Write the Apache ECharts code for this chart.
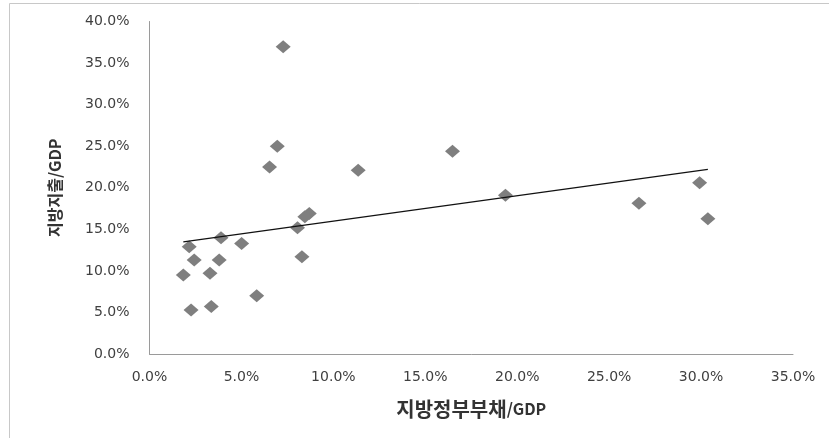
<!DOCTYPE html>
<html>
<head>
<meta charset="utf-8">
<script src="https://cdn.jsdelivr.net/npm/echarts@6/dist/echarts.min.js"></script>
<style>
html,body{margin:0;padding:0;background:#fff;}
#chart{width:829px;height:438px;}
</style>
</head>
<body>
<div id="chart"></div>
<script>
// Local government debt / GDP (%)
const debtGdp = [7.27, 6.95, 6.53, 11.35, 8.69, 8.45, 8.05, 3.89, 2.16, 5.01, 2.43, 3.79, 8.29, 1.84, 3.29, 5.83, 2.26, 3.36, 16.48, 19.36, 26.62, 29.92, 30.37];
// Local expenditure / GDP (%)
const expGdp = [36.95, 25.0, 22.5, 22.1, 16.9, 16.5, 15.2, 14.0, 12.9, 13.3, 11.3, 11.3, 11.7, 9.5, 9.7, 7.0, 5.3, 5.7, 24.4, 19.1, 18.15, 20.6, 16.27];
const xNameKo = '지방정부부채', xNameEn = '/GDP';
const yNameKo = '지방지출', yNameEn = '/GDP';

const points = debtGdp.map((x, i) => [x, expGdp[i]]);

// Linear trend line (least squares) from the data
const n = debtGdp.length;
const mx = debtGdp.reduce((a, b) => a + b, 0) / n;
const my = expGdp.reduce((a, b) => a + b, 0) / n;
let sxy = 0, sxx = 0;
for (let i = 0; i < n; i++) { sxy += (debtGdp[i] - mx) * (expGdp[i] - my); sxx += (debtGdp[i] - mx) ** 2; }
const slope = sxy / sxx, icpt = my - slope * mx;
const xmin = Math.min(...debtGdp), xmax = Math.max(...debtGdp);
const trend = [[xmin, icpt + slope * xmin], [xmax, icpt + slope * xmax]];

const chart = echarts.init(document.getElementById('chart'), null, {renderer: 'canvas'});
const labelStyle = {color: '#404040', fontFamily: 'DejaVu Sans', fontSize: 14, formatter: v => v.toFixed(1) + '%'};
const nameFont = {fontFamily: 'Noto Sans CJK KR', fontWeight: 'bold', color: '#333'};
chart.setOption({
  animation: false,
  backgroundColor: '#fff',
  graphic: [{
    type: 'rect', shape: {x: 9.5, y: 3.5, width: 840, height: 450},
    style: {fill: null, stroke: '#c8c8c8', lineWidth: 1}, silent: true, z: -1
  }],
  grid: {left: 149.5, right: 36, top: 21.5, bottom: 84},
  xAxis: {
    type: 'value', min: 0, max: 35, interval: 5,
    name: '{ko|' + xNameKo + '}{en|' + xNameEn + '}', nameLocation: 'middle', nameGap: 42,
    nameTextStyle: Object.assign({fontSize: 19, lineHeight: 26, rich: {
      ko: Object.assign({fontSize: 20, lineHeight: 26, verticalAlign: 'middle'}, nameFont),
      en: Object.assign({fontSize: 16, lineHeight: 26, verticalAlign: 'middle'}, nameFont)
    }}, nameFont),
    axisLine: {show: true, lineStyle: {color: '#9a9a9a', width: 1}},
    axisTick: {show: false}, splitLine: {show: false},
    axisLabel: Object.assign({margin: 16}, labelStyle)
  },
  yAxis: {
    type: 'value', min: 0, max: 40, interval: 5,
    name: '{ko|' + yNameKo + '}{en|' + yNameEn + '}', nameLocation: 'middle', nameGap: 87,
    nameTextStyle: Object.assign({fontSize: 16, rich: {
      ko: Object.assign({fontSize: 16}, nameFont),
      en: Object.assign({fontSize: 16}, nameFont)
    }}, nameFont),
    axisLine: {show: true, lineStyle: {color: '#9a9a9a', width: 1}},
    axisTick: {show: false}, splitLine: {show: false},
    axisLabel: Object.assign({margin: 20}, labelStyle)
  },
  series: [{
    type: 'scatter', data: points, symbol: 'diamond', symbolSize: [15, 13],
    itemStyle: {color: '#7f7f7f', opacity: 1}, z: 3
  }, {
    type: 'line', data: trend, symbol: 'none',
    lineStyle: {color: '#111', width: 1.2}, z: 4
  }]
});
</script>
</body>
</html>
